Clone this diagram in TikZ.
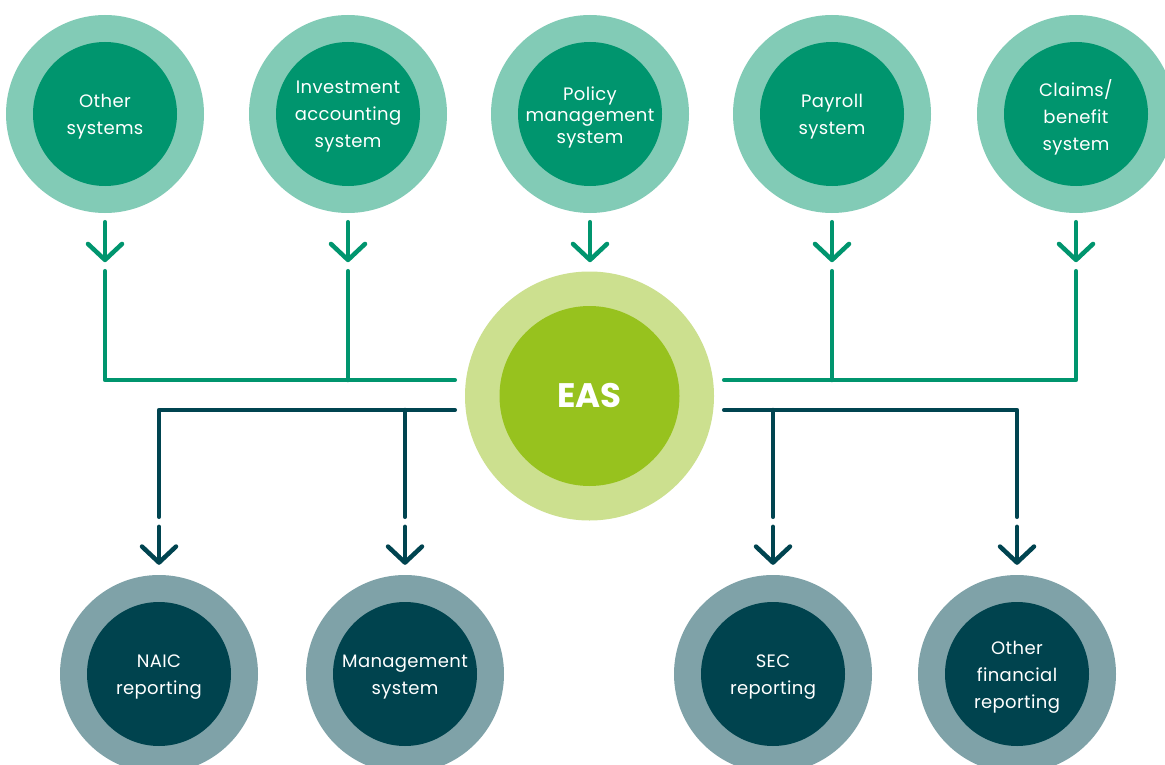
\documentclass[tikz,border=0pt]{standalone}
\usepackage{fontspec}
\setmainfont{Poppins}[LetterSpace=2]
\newfontfamily\easfont{Poppins}
\usetikzlibrary{arrows.meta,calc}
\definecolor{topOuter}{HTML}{82CBB6}
\definecolor{topInner}{HTML}{00956E}
\definecolor{easOuter}{HTML}{CCE08F}
\definecolor{easInner}{HTML}{97C21E}
\definecolor{botOuter}{HTML}{7FA2A8}
\definecolor{botInner}{HTML}{00434E}
\definecolor{darkLine}{HTML}{004450}
\begin{document}
\begin{tikzpicture}[x=1pt,y=-1pt,
  ring/.style={circle, inner sep=0pt, minimum size=198pt},
  core/.style={circle, inner sep=0pt, minimum size=144pt},
  topring/.style={ring, fill=topOuter},
  topcore/.style={core, fill=topInner},
  botring/.style={ring, fill=botOuter},
  botcore/.style={core, fill=botInner},
  txt/.style={text=white, align=center, inner sep=0pt, yshift=-3pt, font=\fontsize{18}{27}\selectfont},
  gline/.style={draw=topInner, line width=4.5pt, line cap=round, line join=round},
  dline/.style={draw=darkLine, line width=4.5pt, line cap=round, line join=round},
  garrow/.style={gline, -{Straight Barb[length=16pt,width=34pt,round]}},
  darrow/.style={dline, -{Straight Barb[length=16pt,width=34pt,round]}}]
\clip (0,0) rectangle (1165,765);
\fill[white] (0,0) rectangle (1165,765);
% top systems
\node[topring] (o1) at (105,114) {};
\node[topcore] (i1) at (o1) {};
\node[txt] (t1) at (i1) {Other\\systems};
\node[topring] (o2) at (348,114) {};
\node[topcore] (i2) at (o2) {};
\node[txt] (t2) at (i2) {Investment\\accounting\\system};
\node[topring] (o3) at (590,114) {};
\node[topcore] (i3) at (o3) {};
\node[txt, font=\fontsize{18}{21.5}\selectfont] (t3) at (i3) {Policy\\management\\system};
\node[topring] (o4) at (832,114) {};
\node[topcore] (i4) at (o4) {};
\node[txt] (t4) at (i4) {Payroll\\system};
\node[topring] (o5) at (1076,114) {};
\node[topcore] (i5) at (o5) {};
\node[txt] (t5) at (i5) {Claims/\\benefit\\system};
% EAS
\node[circle, inner sep=0pt, minimum size=249pt, fill=easOuter] (eas) at (589.5,396) {};
\node[circle, inner sep=0pt, minimum size=180pt, fill=easInner] (easc) at (eas) {};
\node[text=white, font=\easfont\fontsize{34}{34}\selectfont\bfseries] (easl) at (easc) {EAS};
% bottom reports
\node[botring] (b1) at (159,674) {};
\node[botcore] (c1) at (b1) {};
\node[txt] (u1) at (c1) {NAIC\\reporting};
\node[botring] (b2) at (405,674) {};
\node[botcore] (c2) at (b2) {};
\node[txt] (u2) at (c2) {Management\\system};
\node[botring] (b3) at (773,674) {};
\node[botcore] (c3) at (b3) {};
\node[txt] (u3) at (c3) {SEC\\reporting};
\node[botring] (b4) at (1017,674) {};
\node[botcore] (c4) at (b4) {};
\node[txt] (u4) at (c4) {Other\\financial\\reporting};
% bus coordinates
\coordinate (gL) at ($(eas.west)+(-10,-16)$);
\coordinate (gR) at ($(eas.east)+(10,-16)$);
\coordinate (dL) at ($(eas.west)+(-10,14)$);
\coordinate (dR) at ($(eas.east)+(10,14)$);
% input arrows
\foreach \n in {o1,o2,o3,o4,o5}
  \draw[garrow] ($(\n.south)+(0,9)$) -- ($(\n.south)+(0,49)$);
% input lines
\draw[gline] ($(o1.south)+(0,58)$) |- (gL);
\draw[gline] ($(o2.south)+(0,58)$) -- (o2.south |- gL);
\draw[gline] ($(o5.south)+(0,58)$) |- (gR);
\draw[gline] ($(o4.south)+(0,58)$) -- (o4.south |- gR);
% output lines
\draw[dline] (dL) -| ($(b1.north)+(0,-58)$);
\draw[dline] (b2.north |- dL) -- ($(b2.north)+(0,-58)$);
\draw[dline] (dR) -| ($(b4.north)+(0,-58)$);
\draw[dline] (b3.north |- dR) -- ($(b3.north)+(0,-58)$);
% output arrows
\foreach \n in {b1,b2,b3,b4}
  \draw[darrow] ($(\n.north)+(0,-48)$) -- ($(\n.north)+(0,-10)$);
\end{tikzpicture}
\end{document}
